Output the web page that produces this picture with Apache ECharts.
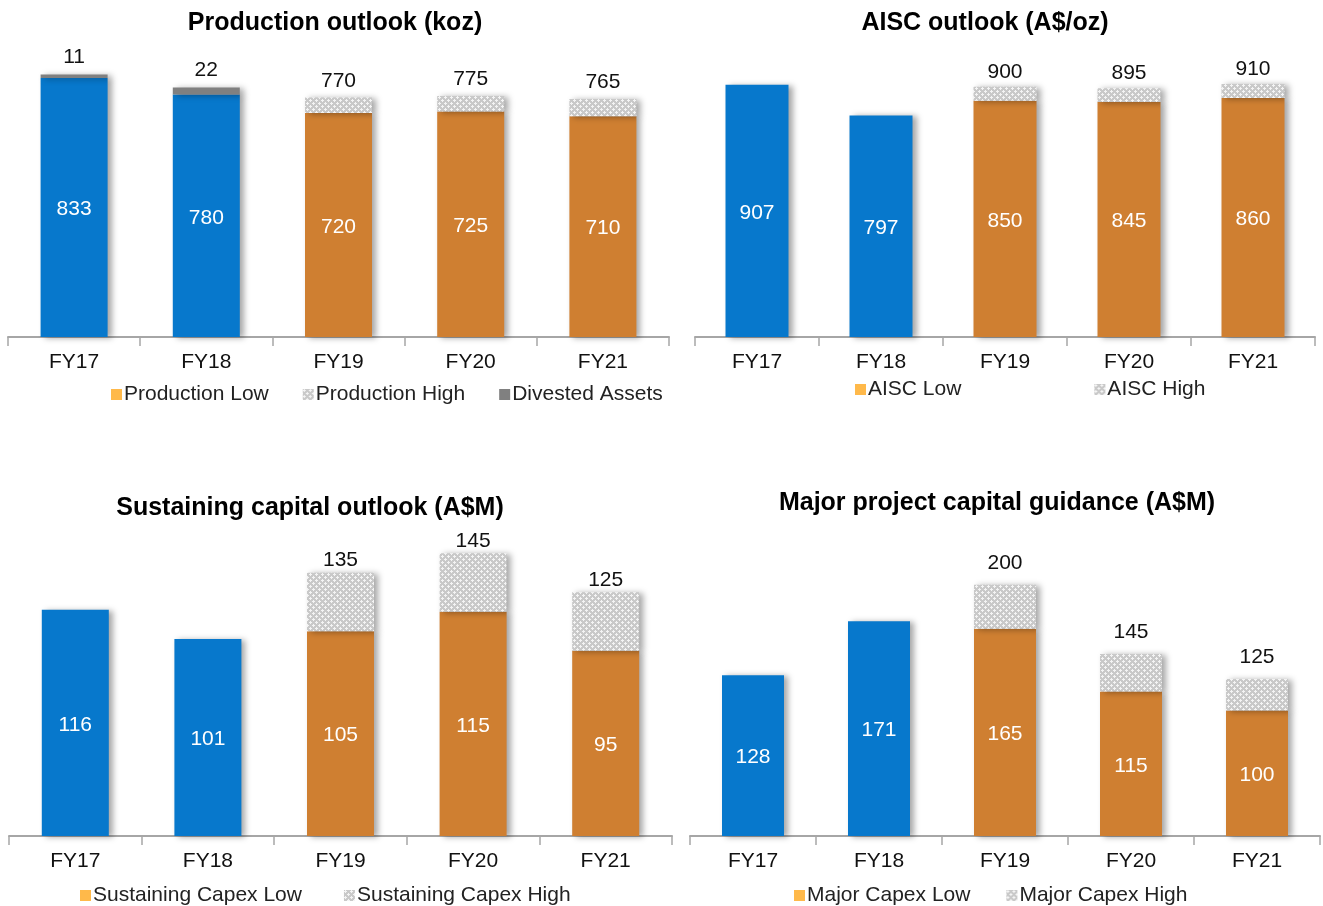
<!DOCTYPE html>
<html>
<head>
<meta charset="utf-8">
<script src="https://cdn.jsdelivr.net/npm/echarts@6/dist/echarts.min.js"></script>
<style>
html,body{margin:0;padding:0;background:#fff;}
#c{width:1323px;height:906px;}
</style>
</head>
<body>
<div id="c"></div>
<script>
// ---- data ----
var categories = ['FY17', 'FY18', 'FY19', 'FY20', 'FY21'];
var isActual = [true, true, false, false, false];

var prodLow = [833, 780, 720, 725, 710];
var prodHigh = [null, null, 770, 775, 765];
var prodDivested = [11, 22, null, null, null];

var aiscLow = [907, 797, 850, 845, 860];
var aiscHigh = [null, null, 900, 895, 910];

var sustLow = [116, 101, 105, 115, 95];
var sustHigh = [null, null, 135, 145, 125];

var majorLow = [128, 171, 165, 115, 100];
var majorHigh = [null, null, 200, 145, 125];

// ---- styles ----
var BLUE = '#0778CC';
var ORANGE = '#CF7F31';
var LEGEND_LOW = '#FFB94A';
var GREY = '#808080';
var FONT = 'Liberation Sans, Arial, sans-serif';
var FS = 21;

function makePattern() {
  var c = document.createElement('canvas');
  c.width = 6; c.height = 6;
  var g = c.getContext('2d');
  g.fillStyle = '#C9C9C9';
  g.fillRect(0, 0, 6, 6);
  g.fillStyle = '#F4F4F4';
  [[1,0],[0,1],[1,1],[2,1],[1,2],[4,3],[3,4],[4,4],[5,4],[4,5]].forEach(function (p) {
    g.fillRect(p[0], p[1], 1, 1);
  });
  return { image: c, repeat: 'repeat' };
}
var HATCH = makePattern();

var shadow = {
  shadowColor: 'rgba(0,0,0,0.35)',
  shadowBlur: 6,
  shadowOffsetX: 4,
  shadowOffsetY: 1
};

function lowColor(p) { return isActual[p.dataIndex] ? BLUE : ORANGE; }

function diff(high, low) {
  return high.map(function (h, i) { return h == null ? null : h - low[i]; });
}

var grids = [
  { left: 8, width: 661, top: 26, height: 311, max: 1000, barWidth: 67 },
  { left: 695, width: 620, top: 59, height: 278, max: 1000, barWidth: 63 },
  { left: 9, width: 663, top: 446, height: 390, max: 200, barWidth: 67 },
  { left: 690, width: 630, top: 522, height: 314, max: 250, barWidth: 62 }
];

var xAxes = [], yAxes = [];
grids.forEach(function (g, i) {
  xAxes.push({
    type: 'category', gridIndex: i, data: categories,
    axisLine: { lineStyle: { color: '#A6A6A6', width: 2 } },
    axisTick: { show: true, length: 9, lineStyle: { color: '#A6A6A6', width: 1.5 } },
    axisLabel: { color: '#111', fontSize: FS, fontFamily: FONT, margin: 15 }
  });
  yAxes.push({ type: 'value', gridIndex: i, min: 0, max: g.max, show: false, splitLine: { show: false } });
});

function lowSeries(name, data, idx, stack) {
  return {
    name: name, type: 'bar', stack: stack, xAxisIndex: idx, yAxisIndex: idx,
    barWidth: grids[idx].barWidth, data: data,
    itemStyle: Object.assign({ color: lowColor }, shadow),
    label: { show: true, position: 'inside', color: '#fff', fontSize: FS, fontFamily: FONT, offset: [0, 2] }
  };
}
function highSeries(name, high, low, idx, stack, dist) {
  return {
    name: name, type: 'bar', stack: stack, xAxisIndex: idx, yAxisIndex: idx,
    barWidth: grids[idx].barWidth, data: diff(high, low),
    itemStyle: Object.assign({ color: HATCH }, shadow),
    label: {
      show: true, position: 'top', color: '#111', fontSize: FS, fontFamily: FONT,
      distance: dist,
      formatter: function (p) { return high[p.dataIndex]; }
    }
  };
}

var series = [
  lowSeries('Production Low', prodLow, 0, 'p'),
  highSeries('Production High', prodHigh, prodLow, 0, 'p', 6),
  {
    name: 'Divested Assets', type: 'bar', stack: 'p', xAxisIndex: 0, yAxisIndex: 0,
    barWidth: grids[0].barWidth, data: prodDivested,
    itemStyle: Object.assign({ color: GREY }, shadow),
    label: { show: true, position: 'top', color: '#111', fontSize: FS, fontFamily: FONT, distance: 7 }
  },
  lowSeries('AISC Low', aiscLow, 1, 'a'),
  highSeries('AISC High', aiscHigh, aiscLow, 1, 'a', 4),
  lowSeries('Sustaining Capex Low', sustLow, 2, 's'),
  highSeries('Sustaining Capex High', sustHigh, sustLow, 2, 's', 2),
  lowSeries('Major Capex Low', majorLow, 3, 'm'),
  highSeries('Major Capex High', majorHigh, majorLow, 3, 'm', 11)
];

function legend(left, top, gap, items) {
  return {
    left: left, top: top, itemGap: gap, itemWidth: 11, itemHeight: 11,
    icon: 'rect', selectedMode: false,
    textStyle: { color: '#222', fontSize: FS, fontFamily: FONT, padding: [0, 0, 0, -3] },
    data: items
  };
}

var titleStyle = { color: '#000', fontSize: 25, fontWeight: 'bold', fontFamily: FONT };

var option = {
  backgroundColor: '#fff',
  animation: false,
  title: [
    { text: 'Production outlook (koz)', left: 330, top: 6, textAlign: 'center', textStyle: titleStyle },
    { text: 'AISC outlook (A$/oz)', left: 980, top: 6, textAlign: 'center', textStyle: titleStyle },
    { text: 'Sustaining capital outlook (A$M)', left: 305, top: 491, textAlign: 'center', textStyle: titleStyle },
    { text: 'Major project capital guidance (A$M)', left: 992, top: 486, textAlign: 'center', textStyle: titleStyle }
  ],
  legend: [
    legend(106, 379, 34, [
      { name: 'Production Low', itemStyle: { color: LEGEND_LOW } },
      { name: 'Production High', itemStyle: { color: HATCH } },
      { name: 'Divested Assets', itemStyle: { color: GREY } }
    ]),
    legend(850, 374, 133, [
      { name: 'AISC Low', itemStyle: { color: LEGEND_LOW } },
      { name: 'AISC High', itemStyle: { color: HATCH } }
    ]),
    legend(75, 880, 42, [
      { name: 'Sustaining Capex Low', itemStyle: { color: LEGEND_LOW } },
      { name: 'Sustaining Capex High', itemStyle: { color: HATCH } }
    ]),
    legend(789, 880, 36, [
      { name: 'Major Capex Low', itemStyle: { color: LEGEND_LOW } },
      { name: 'Major Capex High', itemStyle: { color: HATCH } }
    ])
  ],
  grid: grids.map(function (g) { return { left: g.left, width: g.width, top: g.top, height: g.height, containLabel: false }; }),
  xAxis: xAxes,
  yAxis: yAxes,
  series: series
};

var chart = echarts.init(document.getElementById('c'));
chart.setOption(option);
</script>
</body>
</html>
